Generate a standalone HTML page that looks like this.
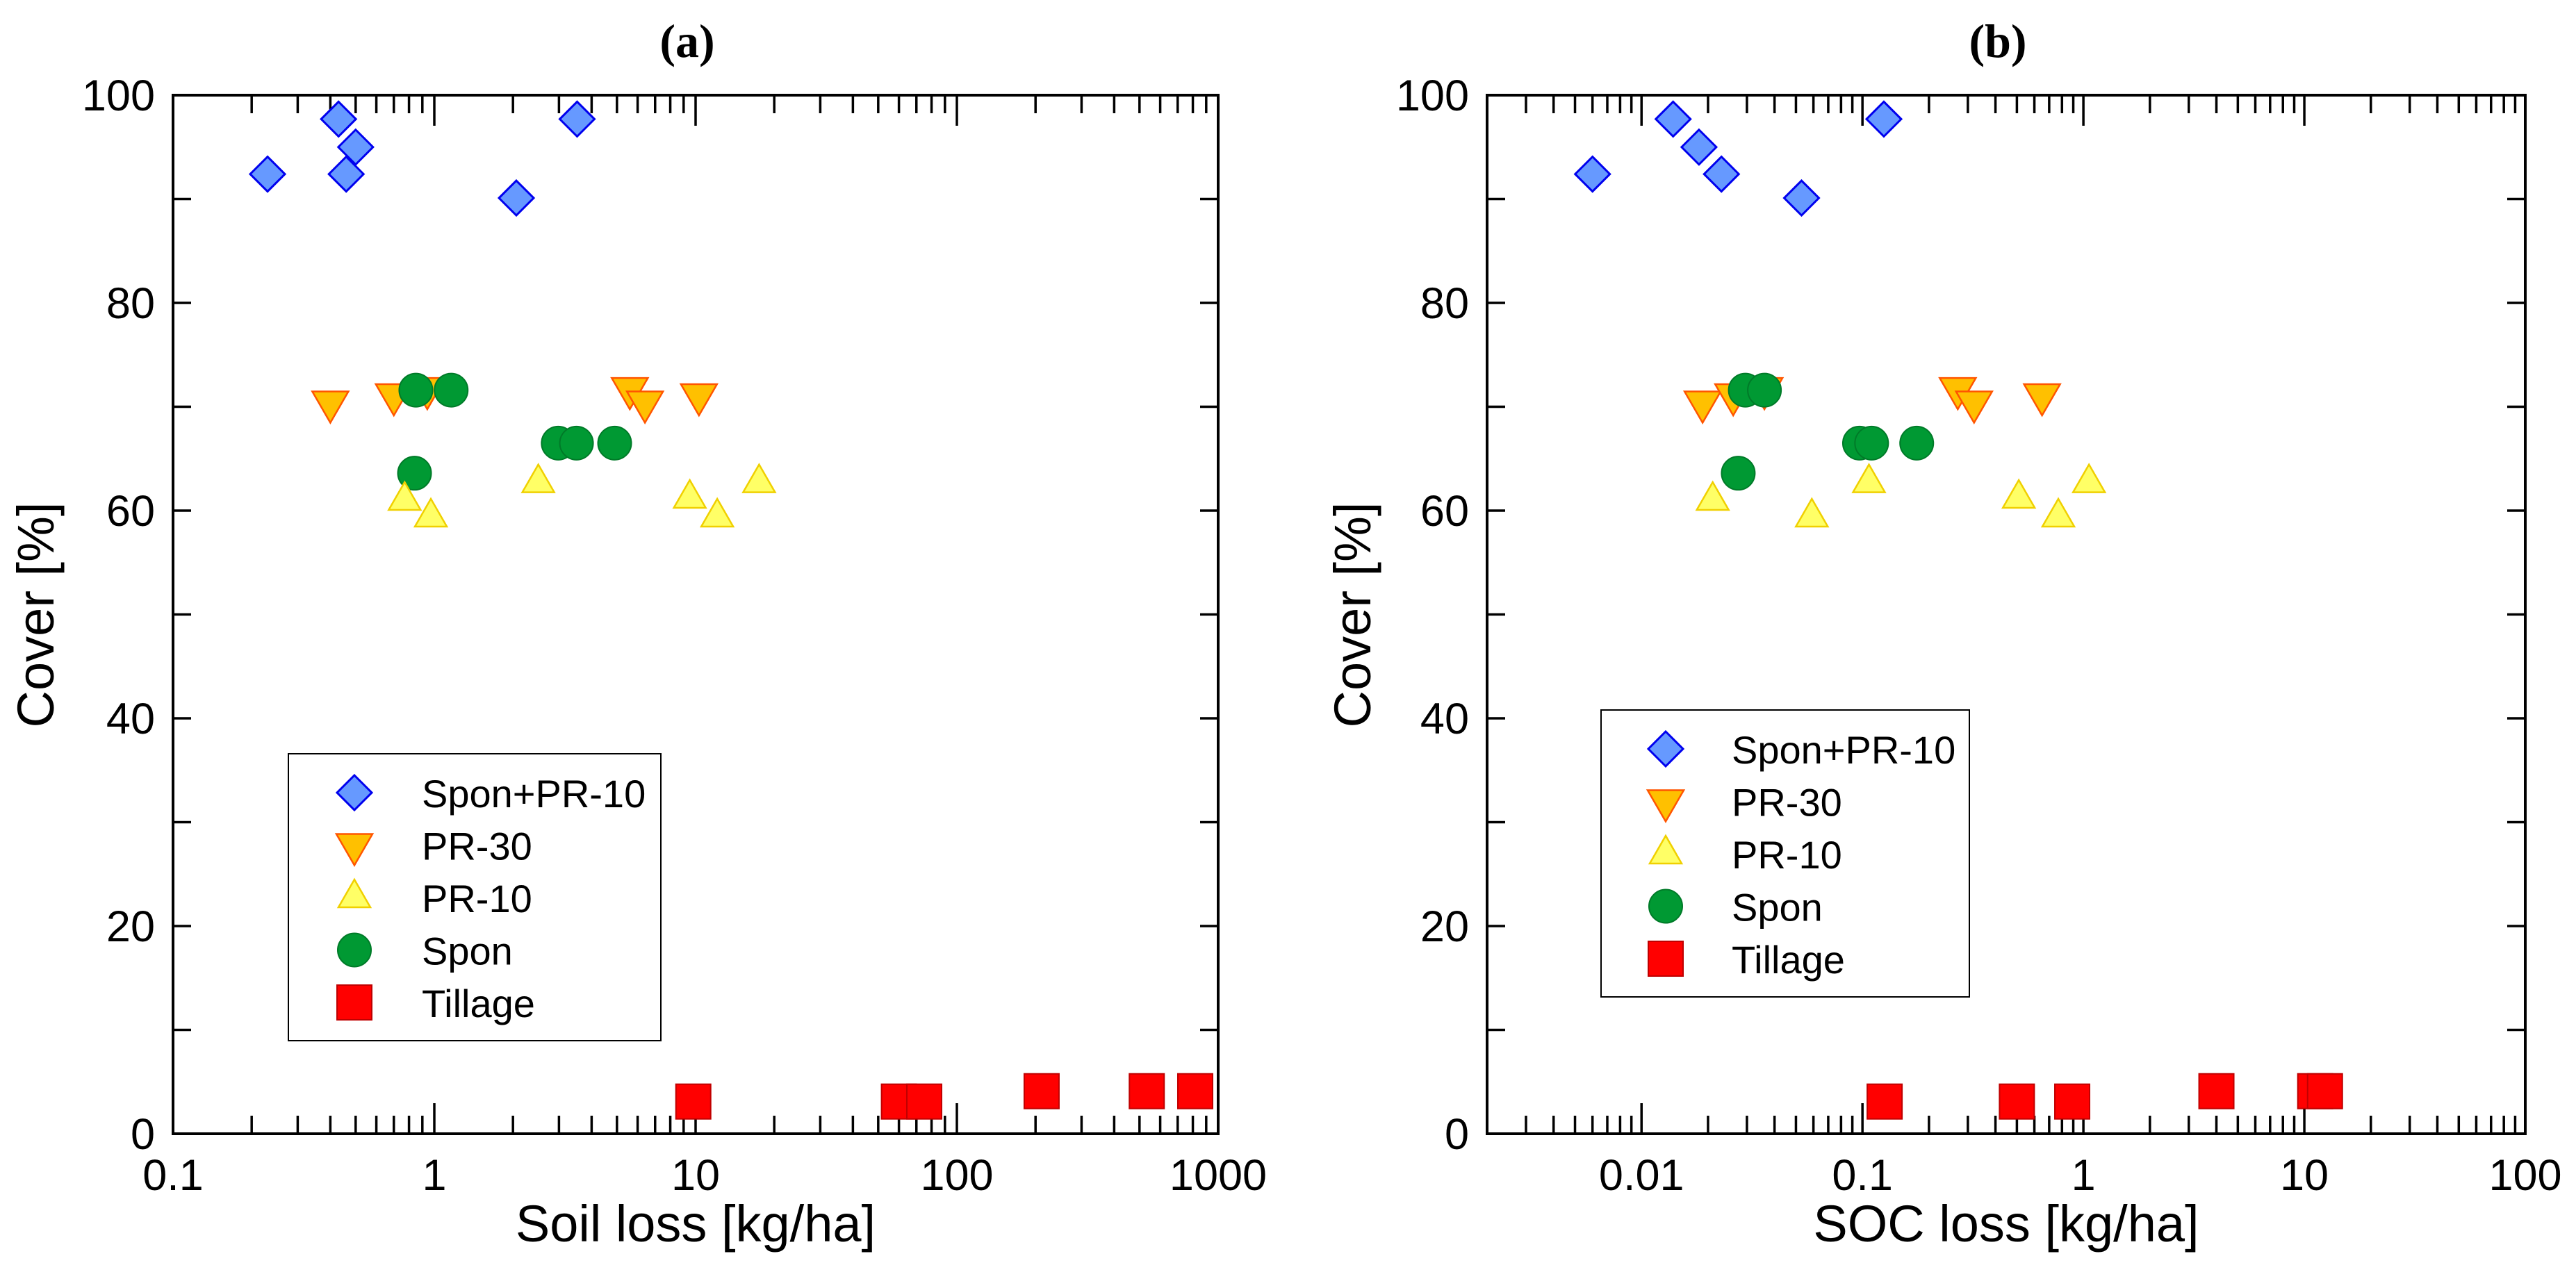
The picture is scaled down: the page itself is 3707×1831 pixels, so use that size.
<!DOCTYPE html>
<html><head><meta charset="utf-8"><style>body{margin:0;background:#fff}svg{display:block}</style></head>
<body>
<svg id="fig" width="3707" height="1831" viewBox="0 0 3707 1831" xmlns="http://www.w3.org/2000/svg"></svg>
<script>
const seriesNames=["Spon+PR-10","PR-30","PR-10","Spon","Tillage"];
const yTicks=[0,20,40,60,80,100];
const aXTicks=[0.1,1,10,100,1000];
const aXLabels=["0.1","1","10","100","1000"];
const bXTicks=[0.01,0.1,1,10,100];
const bXLabels=["0.01","0.1","1","10","100"];
const aSponPR10X=[0.23,0.43,0.50,0.46,2.06,3.52];
const aSponPR10Y=[92.4,97.7,95.0,92.4,90.1,97.7];
const aPR30X=[0.40,0.70,0.94,5.6,6.4,10.3];
const aPR30Y=[70.4,71.1,71.7,71.7,70.4,71.1];
const aPR10X=[0.77,0.97,2.5,9.5,12.1,17.5];
const aPR10Y=[61.0,59.4,62.7,61.2,59.4,62.7];
const aSponX=[0.85,1.16,0.84,2.98,3.5,4.9];
const aSponY=[71.6,71.6,63.6,66.5,66.5,66.5];
const aTillX=[9.8,60,75,211,533,817];
const aTillY=[3.1,3.1,3.1,4.1,4.1,4.1];
const bSponPR10X=[0.0060,0.0139,0.0182,0.023,0.053,0.125];
const bSponPR10Y=[92.4,97.7,95.0,92.4,90.1,97.7];
const bPR30X=[0.0189,0.026,0.036,0.27,0.32,0.65];
const bPR30Y=[70.4,71.1,71.7,71.7,70.4,71.1];
const bPR10X=[0.021,0.059,0.107,0.51,0.77,1.06];
const bPR10Y=[61.0,59.4,62.7,61.2,59.4,62.7];
const bSponX=[0.0295,0.036,0.0274,0.097,0.11,0.176];
const bSponY=[71.6,71.6,63.6,66.5,66.5,66.5];
const bTillX=[0.126,0.50,0.89,4.0,11.2,12.4];
const bTillY=[3.1,3.1,3.1,4.1,4.1,4.1];

const NS="http://www.w3.org/2000/svg";
const svg=document.getElementById('fig');
function mk(tag,attrs,parent,text){const e=document.createElementNS(NS,tag);for(const k in attrs)e.setAttribute(k,attrs[k]);if(text!==undefined)e.textContent=text;(parent||svg).appendChild(e);return e;}
const FONT='"Liberation Sans", Arial, sans-serif';

function marker(g,kind,x,y){
  let e;
  if(kind===0){e=mk('polygon',{points:`${x},${y-25} ${x+25},${y} ${x},${y+25} ${x-25},${y}`,fill:'#6699ff',stroke:'#0000ee','stroke-width':3},g);}
  else if(kind===1){e=mk('polygon',{points:`${x-26},${y-16} ${x+26},${y-16} ${x},${y+29}`,fill:'#ffc000',stroke:'#ff5500','stroke-width':2.5},g);}
  else if(kind===2){e=mk('polygon',{points:`${x-23},${y+14} ${x+23},${y+14} ${x},${y-26}`,fill:'#ffff66',stroke:'#f0d000','stroke-width':2.5},g);}
  else if(kind===3){e=mk('circle',{cx:x,cy:y,r:24,fill:'#009933',stroke:'#007a28','stroke-width':2},g);}
  else {e=mk('rect',{x:x-25,y:y-25,width:50,height:50,fill:'#ff0000',stroke:'#c00000','stroke-width':2},g);}
  return e;
}

function panel(cfg){
  const g=mk('g',{});
  
  
  const L=cfg.L,R=cfg.R,T=137,B=1632;
  const lmin=Math.log10(cfg.xmin),lmax=Math.log10(cfg.xmax);
  const sx=v=>L+(Math.log10(v)-lmin)/(lmax-lmin)*(R-L);
  const sy=v=>B-v/100*(B-T);
  // ticks
  const tk=mk('g',{stroke:'#000','stroke-width':3.5},g);
  
  
  for(let d=Math.floor(lmin);d<Math.ceil(lmax)+1;d++){
    for(let m=1;m<10;m++){
      const v=m*Math.pow(10,d); if(v<cfg.xmin*0.999||v>cfg.xmax*1.001)continue;
      const x=sx(v), len=m===1?44:26;
      mk('line',{x1:x,y1:B,x2:x,y2:B-len},tk);
      mk('line',{x1:x,y1:T,x2:x,y2:T+len},tk);
    }
  }
  for(let v=0;v<=100;v+=10){const y=sy(v);mk('line',{x1:L,y1:y,x2:L+26,y2:y},tk);mk('line',{x1:R,y1:y,x2:R-26,y2:y},tk);}
  const fr=mk('rect',{x:L,y:T,width:R-L,height:B-T,fill:'none',stroke:'#000','stroke-width':4},g);
  
  
  // labels
  cfg.xt.forEach((v,i)=>{const t=mk('text',{x:sx(v),y:1713,'font-family':FONT,'font-size':63,'text-anchor':'middle'},g,cfg.xl[i]);
    
    });
  yTicks.forEach(v=>{const t=mk('text',{x:L-26,y:sy(v)+22,'font-family':FONT,'font-size':63,'text-anchor':'end'},g,String(v));
    
    });
  const xt=mk('text',{x:(L+R)/2,y:1787,'font-family':FONT,'font-size':74,'text-anchor':'middle'},g,cfg.xtitle);
  
  
  const yt=mk('text',{x:0,y:0,'font-family':FONT,'font-size':74,'text-anchor':'middle',transform:`translate(${cfg.ytx},885) rotate(-90)`},g,'Cover [%]');
  
  
  const ti=mk('text',{x:(L+R)/2-12,y:82,'font-family':'"Liberation Serif", serif','font-size':68,'font-weight':'bold','text-anchor':'middle'},g,cfg.title);
  
  
  // data: draw in order
  const order=[4,0,1,3,2];
  const data=cfg.data;
  [0,1,3,2,4].forEach(k=>{
    const sg=mk('g',{},g);
    
    
    data[k][0].forEach((xv,i)=>{const m=marker(sg,k,sx(xv),sy(data[k][1][i]));
      
      });
  });
  // legend
  const lg=mk('g',{},g);
  
  
  const lb=cfg.leg;
  mk('rect',{x:lb.x,y:lb.y,width:lb.w,height:lb.h,fill:'#fff',stroke:'#000','stroke-width':2},lg);
  seriesNames.forEach((n,i)=>{
    const y=lb.y+56+i*75.5;
    marker(lg,i,lb.mx,y);
    const t=mk('text',{x:lb.tx,y:y+21,'font-family':FONT,'font-size':56},lg,n);
    
    
  });
}
panel({id:'a',L:249,R:1753,xmin:0.1,xmax:1000,xt:aXTicks,xl:aXLabels,xtitle:'Soil loss [kg/ha]',ytx:77,title:'(a)',
  data:[[aSponPR10X,aSponPR10Y],[aPR30X,aPR30Y],[aPR10X,aPR10Y],[aSponX,aSponY],[aTillX,aTillY]],
  leg:{x:415,y:1085,w:536,h:413,mx:510,tx:607}});
panel({id:'b',L:2140,R:3634,xmin:0.002,xmax:100,xt:bXTicks,xl:bXLabels,xtitle:'SOC loss [kg/ha]',ytx:1972,title:'(b)',
  data:[[bSponPR10X,bSponPR10Y],[bPR30X,bPR30Y],[bPR10X,bPR10Y],[bSponX,bSponY],[bTillX,bTillY]],
  leg:{x:2304,y:1022,w:530,h:413,mx:2397,tx:2492}});
</script>
</body></html>
